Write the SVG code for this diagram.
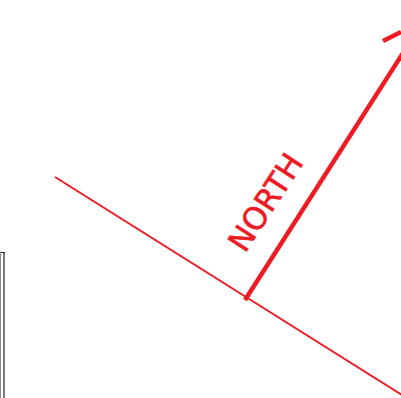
<svg xmlns="http://www.w3.org/2000/svg" width="401" height="398" viewBox="0 0 401 398">
<style>
.red{stroke:#ed1c24;fill:none;stroke-linecap:butt}
.lbl{font-family:"DejaVu Sans",sans-serif;fill:#ed1c24;stroke:#ed1c24;stroke-width:0.6;font-size:31px}
</style>
<rect width="401" height="398" fill="#fff"/>
<g id="frame">
<line x1="0" y1="252.5" x2="5" y2="252.5" stroke="#222" stroke-width="1"/>
<line x1="0.5" y1="252" x2="0.5" y2="398" stroke="#888" stroke-width="1"/>
<line x1="4" y1="252" x2="4" y2="398" stroke="#333" stroke-width="1.3"/>
</g>
<g id="connectors">
<line class="red" x1="55" y1="177" x2="402" y2="395" stroke-width="2"/>
<line class="red" x1="245" y1="300" x2="403" y2="53" stroke-width="4.5"/>
<line class="red" x1="383" y1="41" x2="401" y2="32" stroke-width="4.5"/>
</g>
<g id="north">
<text class="lbl" transform="translate(245,254) rotate(-57)">NORTH</text>
</g>
</svg>
